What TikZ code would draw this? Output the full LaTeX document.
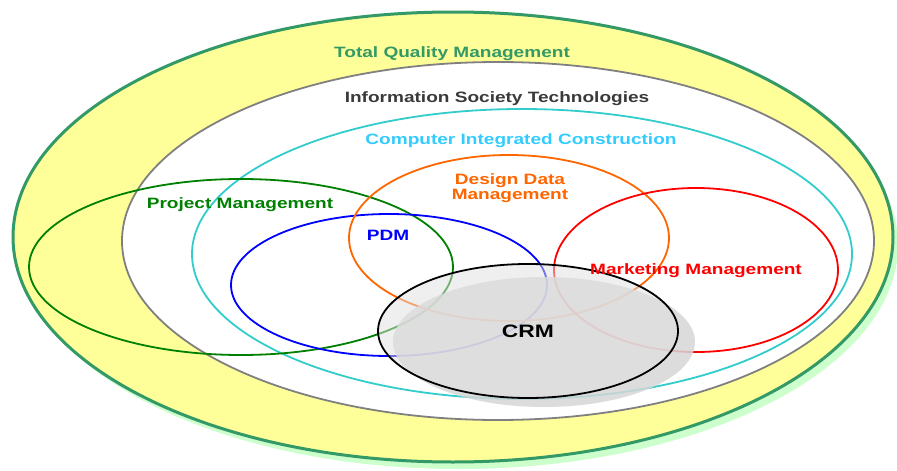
\documentclass[tikz,border=0pt]{standalone}
\usepackage{fontspec}
\setmainfont{Liberation Sans}

\definecolor{tqmgreen}{HTML}{339966}
\definecolor{tqmfill}{HTML}{FFFF99}
\definecolor{tqmshade}{HTML}{CCFFCC}
\definecolor{istgray}{HTML}{808080}
\definecolor{isttext}{HTML}{3A3A3A}
\definecolor{ciccyan}{HTML}{33CCCC}
\definecolor{cictext}{HTML}{33CCFF}
\definecolor{pmgreen}{HTML}{008000}
\definecolor{pdmblue}{HTML}{0000FF}
\definecolor{ddmorange}{HTML}{FF6600}
\definecolor{mmred}{HTML}{FF0000}

\tikzset{
  ring/.style={line width=1.8pt},
  lbl/.style={font=\fontsize{15}{15}\selectfont\bfseries, anchor=base, xscale=1.27, inner sep=0pt},
}

\begin{document}
\begin{tikzpicture}[x=1pt, y=-1pt]
  \useasboundingbox (0, 0) rectangle (897, 471);

  % outer band with its shadow
  \fill[tqmshade] (459, 245) ellipse [x radius=439, y radius=224];
  \draw[tqmgreen, line width=3pt, fill=tqmfill] (453, 237) ellipse [x radius=440, y radius=225];
  \draw[istgray, ring, fill=white] (498, 241) ellipse [x radius=376, y radius=179];
  \draw[ciccyan, ring] (522, 254) ellipse [x radius=330, y radius=145];

  % inner fields
  \draw[pmgreen, ring]   (241, 267) ellipse [x radius=212, y radius=88];
  \draw[pdmblue, ring]   (389, 285) ellipse [x radius=158, y radius=71];
  \draw[ddmorange, ring] (509, 238) ellipse [x radius=160, y radius=83];
  \draw[mmred, ring]     (696, 270) ellipse [x radius=142, y radius=82];

  % CRM on top, semi transparent
  \fill[black!16, opacity=0.85] (544, 342) ellipse [x radius=151, y radius=65];
  \draw[black, ring, fill=black!12, fill opacity=0.5] (528, 331) ellipse [x radius=150, y radius=67];

  \node[lbl, text=tqmgreen]  (tqm) at (452, 57)  {Total Quality Management};
  \node[lbl, text=isttext]   (ist) at (497, 102) {Information Society Technologies};
  \node[lbl, text=cictext]   (cic) at (521, 144) {Computer Integrated Construction};
  \node[lbl, text=pmgreen]   (pm)  at (240, 208) {Project Management};
  \node[lbl, text=pdmblue]   (pdm) at (388, 240) {PDM};
  \node[lbl, text=ddmorange, align=center] (ddm) at (510, 199) {Design Data\\Management};
  \node[lbl, text=mmred]     (mm)  at (696, 274) {Marketing Management};
  \node[lbl, text=black, font=\fontsize{18}{18}\selectfont\bfseries] (crm) at (528, 337) {CRM};
\end{tikzpicture}
\end{document}
